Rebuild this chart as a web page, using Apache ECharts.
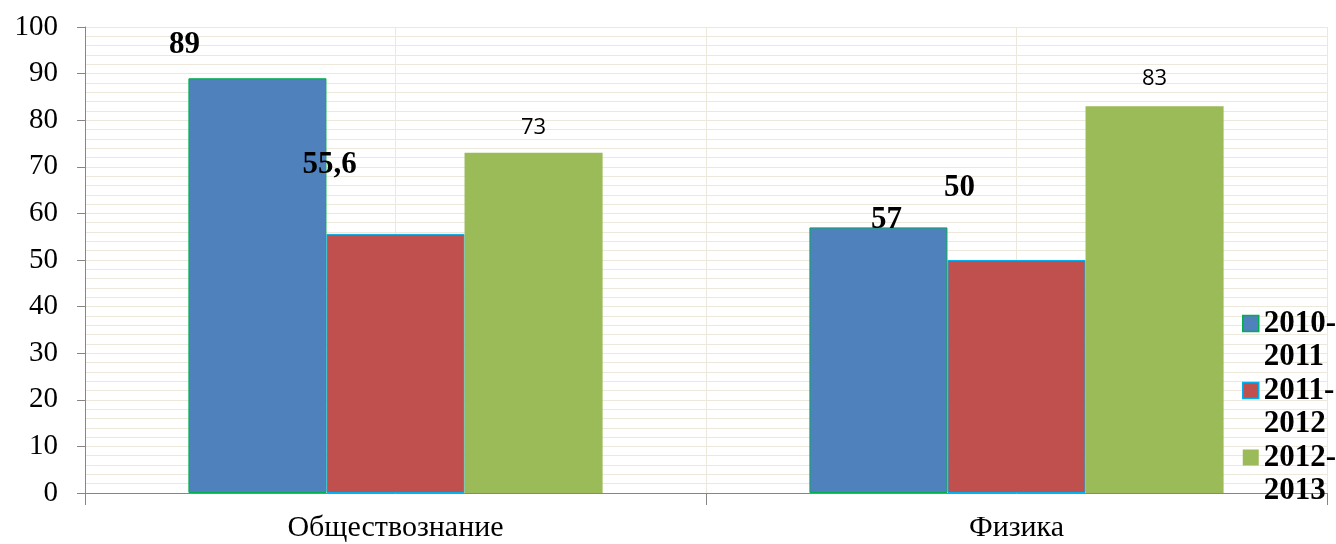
<!DOCTYPE html>
<html>
<head>
<meta charset="utf-8">
<script src="https://cdn.jsdelivr.net/npm/echarts@6/dist/echarts.min.js"></script>
<style>
  html, body { margin: 0; padding: 0; background: #fff; }
  #chart { width: 1336px; height: 544px; }
</style>
</head>
<body>
<div id="chart"></div>
<script>
// категории и годы
const subjects = ['Обществознание', 'Физика']
const years = ['2010-2011', '2011-2012', '2012-2013']
const values2010 = [89, 57]
const values2011 = [55.6, 50]
const values2012 = [73, 83]
const yTicks = [0, 100, 10]

// подписи: смещения как в исходной картинке
const labelOffsets = [
  [[-73, -18], [8, 8]],
  [[-66, -53], [-57, -57]],
  [[0, -14], [0, -16]]
]
const colors = ['#4F81BD', '#C0504D', '#9BBB59']
const borders = ['#00B050', '#00B0F0', '#9BBB59']
const gridColor = '#ECE9DC'

const boldLabel = {
  fontFamily: 'Liberation Serif',
  fontWeight: 'bold',
  fontSize: 31,
  color: '#000'
}
const plainLabel = {
  fontFamily: 'Open Sans',
  fontSize: 22,
  color: '#000'
}

function buildSeries (name, values, idx) {
  return {
    name: name,
    type: 'bar',
    xAxisIndex: 0,
    barGap: '0%',
    barCategoryGap: '33.3%',
    itemStyle: {
      color: colors[idx],
      borderColor: borders[idx],
      borderWidth: idx === 2 ? 0 : 1
    },
    data: values.map((v, i) => ({
      value: v,
      label: {
        show: true,
        position: 'top',
        distance: 0,
        offset: labelOffsets[idx][i],
        formatter: String(v).replace('.', ','),
        ...(idx === 2 ? plainLabel : boldLabel)
      }
    }))
  }
}

const myChart = echarts.init(document.getElementById('chart'))
const options = {
  animation: false,
  grid: {
    left: 85,
    right: 9,
    top: 27,
    bottom: 51,
    containLabel: false
  },
  legend: {
    orient: 'vertical',
    left: 1237,
    top: 269,
    icon: 'rect',
    itemWidth: 16,
    itemHeight: 16,
    itemGap: -32,
    data: years.map((y, i) => ({
      name: y,
      itemStyle: { color: colors[i], borderColor: borders[i], borderWidth: i === 2 ? 0 : 1.5 }
    })),
    // пустая строка сверху, чтобы значок стоял напротив первой строки
    formatter: n => '\n' + n.replace('-', '-\n'),
    textStyle: {
      fontFamily: 'Liberation Serif',
      fontWeight: 'bold',
      fontSize: 31,
      lineHeight: 33,
      color: '#000'
    }
  },
  xAxis: [
    {
      type: 'category',
      data: subjects,
      axisLine: { lineStyle: { color: '#868686', width: 1 } },
      axisTick: { show: true, length: 12, lineStyle: { color: '#868686' } },
      axisLabel: {
        fontFamily: 'Liberation Serif',
        fontSize: 30,
        color: '#000',
        margin: 20
      },
      splitLine: { show: false }
    },
    {
      type: 'value',
      min: 0,
      max: 2,
      interval: 0.5,
      position: 'top',
      axisLine: { show: false },
      axisTick: { show: false },
      axisLabel: { show: false },
      splitLine: { show: true, lineStyle: { color: gridColor, width: 1 } }
    }
  ],
  yAxis: {
    type: 'value',
    min: yTicks[0],
    max: yTicks[1],
    interval: yTicks[2],
    axisLine: { show: true, lineStyle: { color: '#868686' } },
    axisTick: { show: true, length: 8, lineStyle: { color: '#868686' } },
    axisLabel: {
      fontFamily: 'Liberation Serif',
      fontSize: 29,
      color: '#000',
      margin: 27
    },
    splitLine: { show: true, lineStyle: { color: gridColor } },
    minorTick: { show: false, splitNumber: 5 },
    minorSplitLine: { show: true, lineStyle: { color: gridColor } }
  },
  series: [
    buildSeries(years[0], values2010, 0),
    buildSeries(years[1], values2011, 1),
    buildSeries(years[2], values2012, 2)
  ]
}
myChart.setOption(options)
</script>
</body>
</html>
